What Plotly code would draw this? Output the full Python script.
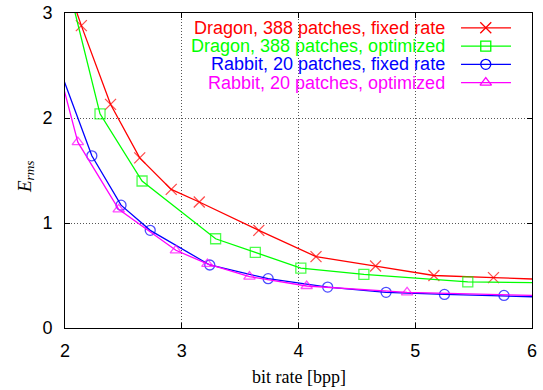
import plotly.graph_objects as go

# ---- data ----
dragon_fixed_x = [2.04, 2.14, 2.39, 2.64, 2.91, 3.15, 3.66, 4.15, 4.66, 5.16, 5.67, 6.17]
dragon_fixed_y = [3.20, 2.88, 2.13, 1.62, 1.32, 1.20, 0.93, 0.68, 0.59, 0.50, 0.48, 0.46]

dragon_opt_x = [2.06, 2.30, 2.66, 3.29, 3.63, 4.02, 4.56, 5.45, 6.10]
dragon_opt_y = [3.12, 2.04, 1.40, 0.85, 0.72, 0.57, 0.51, 0.44, 0.43]

rabbit_fixed_x = [1.97, 2.23, 2.48, 2.73, 3.24, 3.74, 4.25, 4.75, 5.25, 5.76, 6.26]
rabbit_fixed_y = [2.42, 1.64, 1.17, 0.93, 0.60, 0.47, 0.39, 0.34, 0.32, 0.31, 0.29]

rabbit_opt_x = [1.98, 2.11, 2.46, 2.95, 3.22, 3.58, 4.07, 4.93, 6.20]
rabbit_opt_y = [2.32, 1.77, 1.13, 0.74, 0.61, 0.49, 0.40, 0.34, 0.305]

series_names = [
    "Dragon, 388 patches, fixed rate",
    "Dragon, 388 patches, optimized",
    "Rabbit, 20 patches, fixed rate",
    "Rabbit, 20 patches, optimized",
]
series_colors = ["#ff0000", "#00ff00", "#0000ff", "#ff00ff"]
series_symbols = ["x-thin-open", "square-open", "circle-open", "triangle-up-open"]

x_ticks = [2, 3, 4, 5, 6]
y_ticks = [0, 1, 2, 3]
x_range = [2, 6]
y_range = [0, 3]

series = [
    (dragon_fixed_x, dragon_fixed_y),
    (dragon_opt_x, dragon_opt_y),
    (rabbit_fixed_x, rabbit_fixed_y),
    (rabbit_opt_x, rabbit_opt_y),
]

fig = go.Figure()


def msize(sym):
    return 11 if sym == "x-thin-open" else 10


for (xs, ys), name, col, sym in zip(series, series_names, series_colors, series_symbols):
    # points lying outside the visible range only continue the line, no marker
    sizes = [msize(sym) if (x_range[0] <= x <= x_range[1] and y_range[0] <= y <= y_range[1]) else 0
             for x, y in zip(xs, ys)]
    fig.add_trace(go.Scatter(
        x=xs, y=ys, mode="lines+markers", name=name,
        line=dict(color=col, width=1.3),
        marker=dict(symbol=sym, size=sizes,
                    color=col, line=dict(color=col, width=1.3)),
        showlegend=False,
    ))

# ---- custom gnuplot-style legend (text right-aligned, sample on the right) ----
legend_rows = [0.953, 0.895, 0.837, 0.779]
legend_text_x = 0.818
legend_line_x = [0.848, 0.955]
legend_mark_x = 0.901

for row, name, col, sym in zip(legend_rows, series_names, series_colors, series_symbols):
    fig.add_annotation(
        x=legend_text_x, y=row, xref="paper", yref="paper",
        xanchor="right", yanchor="middle", showarrow=False,
        text=name, font=dict(family="Liberation Sans, Arial", size=18, color=col),
    )
    fig.add_trace(go.Scatter(
        x=legend_line_x, y=[row, row], xaxis="x2", yaxis="y2",
        mode="lines", line=dict(color=col, width=1.3),
        showlegend=False, hoverinfo="skip",
    ))
    fig.add_trace(go.Scatter(
        x=[legend_mark_x], y=[row], xaxis="x2", yaxis="y2",
        mode="markers",
        marker=dict(symbol=sym, size=msize(sym),
                    color=col, line=dict(color=col, width=1.3)),
        showlegend=False, hoverinfo="skip",
    ))

axis_common = dict(
    showline=True, linecolor="black", linewidth=1, mirror="ticks",
    ticks="inside", ticklen=5, tickcolor="black", tickwidth=1,
    showgrid=True, gridcolor="#555555", gridwidth=1, griddash="1px,2px",
    zeroline=False, automargin=False,
    tickfont=dict(family="Liberation Sans, Arial", size=18, color="black"),
)

fig.update_layout(
    width=543, height=390,
    margin=dict(l=65, r=11, t=13, b=62),
    paper_bgcolor="white", plot_bgcolor="white",
    xaxis=dict(range=x_range, tickvals=x_ticks, ticktext=[str(v) for v in x_ticks],
               ticklabelstandoff=6, **axis_common),
    yaxis=dict(range=y_range, tickvals=y_ticks, ticktext=[str(v) for v in y_ticks],
               ticklabelstandoff=8, **axis_common),
    xaxis2=dict(overlaying="x", range=[0, 1], visible=False, fixedrange=True, automargin=False),
    yaxis2=dict(overlaying="y", range=[0, 1], visible=False, fixedrange=True, automargin=False),
    showlegend=False,
)

fig.add_annotation(
    x=0.5, y=-0.155, xref="paper", yref="paper", xanchor="center", yanchor="middle",
    showarrow=False, text="bit rate [bpp]",
    font=dict(family="Liberation Serif, Times New Roman", size=18, color="black"),
)
fig.add_annotation(
    x=-0.085, y=0.48, xref="paper", yref="paper", xanchor="center", yanchor="middle",
    showarrow=False, textangle=-90, text="<i>E<sub>rms</sub></i>",
    font=dict(family="Liberation Serif, Times New Roman", size=19, color="black"),
)

fig.write_html("out.html")
